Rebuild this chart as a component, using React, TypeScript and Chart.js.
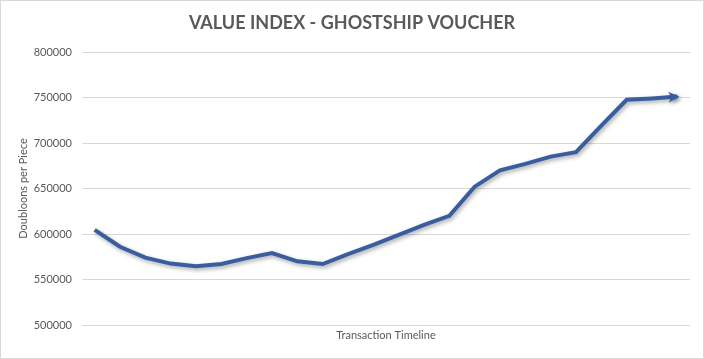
import React, { useEffect, useRef } from "react";
import { Chart, registerables } from "chart.js";

Chart.register(...registerables);

const TITLE = "VALUE INDEX - GHOSTSHIP VOUCHER";
const Y_TITLE = "Doubloons per Piece";
const X_TITLE = "Transaction Timeline";
const categories = Array.from({ length: 24 }, (_, i) => `T${i + 1}`);
const values = [
  604500, 586000, 574000, 567500, 564500, 567000, 573500, 579000, 570000, 567000,
  578000, 588000, 599000, 610000, 620000, 652000, 670000, 677000, 685000, 690000,
  719000, 747500, 749000, 751000,
];
const Y_MIN = 500000;
const Y_MAX = 800000;
const Y_STEP = 50000;

const LINE_COLOR = "#3A5DA0";
const TEXT_COLOR = "#595959";
const GRID_COLOR = "#D9D9D9";
const FONT = "Lato, 'Open Sans', sans-serif";

const titlePlugin = {
  id: "customTitle",
  afterDraw(chart: any) {
    const ctx = chart.ctx;
    ctx.save();
    ctx.fillStyle = TEXT_COLOR;
    ctx.font = `bold 18px ${FONT}`;
    ctx.textAlign = "center";
    ctx.textBaseline = "middle";
    ctx.fillText(TITLE, chart.width / 2, 22);
    ctx.restore();
  },
};

const shadowArrowPlugin = {
  id: "shadowArrow",
  beforeDatasetsDraw(chart: any) {
    const ctx = chart.ctx;
    ctx.save();
    ctx.shadowColor = "rgba(0,0,0,0.35)";
    ctx.shadowBlur = 4;
    ctx.shadowOffsetX = 1.5;
    ctx.shadowOffsetY = 2;
  },
  afterDatasetsDraw(chart: any) {
    const ctx = chart.ctx;
    const meta = chart.getDatasetMeta(0);
    const pts = meta.data;
    if (pts.length >= 2) {
      const a = pts[pts.length - 2];
      const b = pts[pts.length - 1];
      const ang = Math.atan2(b.y - a.y, b.x - a.x);
      const tipX = b.x + Math.cos(ang) * 2;
      const tipY = b.y + Math.sin(ang) * 2;
      const len = 11;
      const hw = 5.5;
      const bx = tipX - Math.cos(ang) * len;
      const by = tipY - Math.sin(ang) * len;
      ctx.fillStyle = LINE_COLOR;
      ctx.beginPath();
      ctx.moveTo(tipX, tipY);
      ctx.lineTo(bx + Math.sin(ang) * hw, by - Math.cos(ang) * hw);
      ctx.lineTo(bx + Math.cos(ang) * 3, by + Math.sin(ang) * 3);
      ctx.lineTo(bx - Math.sin(ang) * hw, by + Math.cos(ang) * hw);
      ctx.closePath();
      ctx.fill();
    }
    ctx.restore();
  },
};

export default function App() {
  const ref = useRef<HTMLCanvasElement | null>(null);
  useEffect(() => {
    if (!ref.current) return;
    const chart = new Chart(ref.current, {
      type: "line",
      data: {
        labels: categories,
        datasets: [
          {
            data: values,
            borderColor: LINE_COLOR,
            borderWidth: 4,
            pointRadius: 0,
            tension: 0,
            fill: false,
            borderJoinStyle: "miter",
          },
        ],
      },
      options: {
        animation: false,
        responsive: false,
        maintainAspectRatio: false,
        layout: { padding: { left: 0, right: 13, top: 51, bottom: 0 } },
        plugins: {
          legend: { display: false },
          title: { display: false },
          tooltip: { enabled: false },
        },
        scales: {
          x: {
            type: "category",
            offset: true,
            grid: { display: false, drawTicks: false },
            border: { display: false },
            ticks: { display: false },
            title: {
              display: true,
              text: X_TITLE,
              color: TEXT_COLOR,
              font: { family: FONT, size: 11 },
              padding: { top: 0, bottom: 16 },
            },
            afterFit(scale: any) {
              scale.height = 33;
            },
          },
          y: {
            min: Y_MIN,
            max: Y_MAX,
            grid: { color: GRID_COLOR, lineWidth: 1, drawTicks: false },
            border: { display: false },
            ticks: {
              stepSize: Y_STEP,
              padding: 10,
              color: TEXT_COLOR,
              font: { family: FONT, size: 11 },
              callback: (v: any) => String(v),
            },
            title: {
              display: true,
              text: Y_TITLE,
              color: TEXT_COLOR,
              font: { family: FONT, size: 11 },
              padding: { top: 16, bottom: 0 },
            },
            afterFit(scale: any) {
              scale.width = 81;
            },
          },
        },
      },
      plugins: [titlePlugin, shadowArrowPlugin],
    });
    return () => chart.destroy();
  }, []);
  return (
    <div
      style={{
        position: "absolute",
        left: 0,
        top: 0,
        width: 704,
        height: 359,
        boxSizing: "border-box",
        border: "1px solid #D9D9D9",
        background: "#fff",
      }}
    >
      <canvas
        ref={ref}
        width={702}
        height={357}
        style={{ display: "block", width: 702, height: 357 }}
      />
    </div>
  );
}
